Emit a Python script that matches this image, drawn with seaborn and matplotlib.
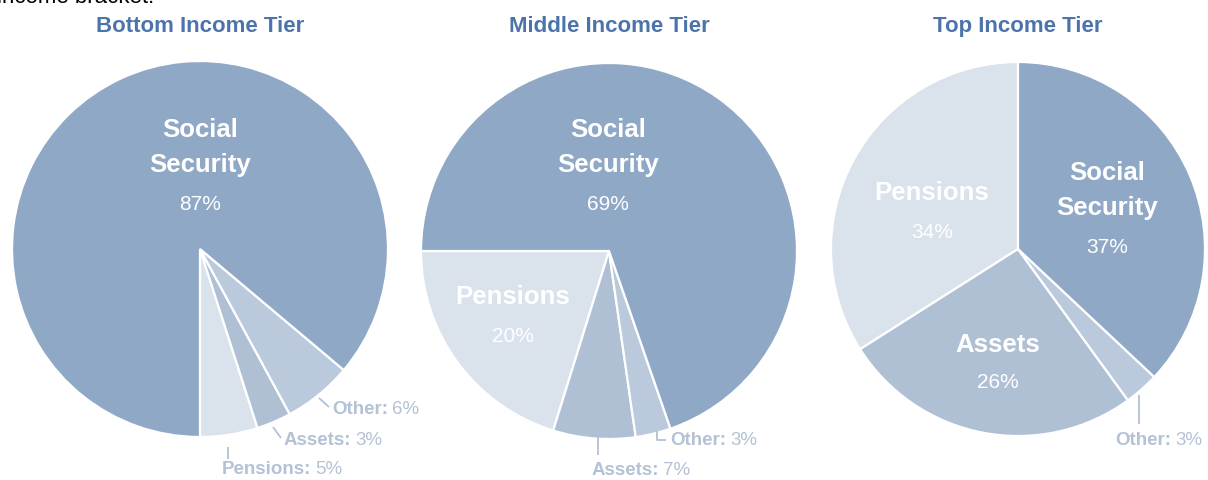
import matplotlib
matplotlib.use("Agg")
import matplotlib.pyplot as plt
from matplotlib import font_manager
import seaborn as sns

# Income sources for retirees, by income tier (percent of income)
tiers = ["Bottom Income Tier", "Middle Income Tier", "Top Income Tier"]
sources = ["Pensions", "Assets", "Other", "Social Security"]
bottom_shares = [5, 3, 6, 87]
middle_shares = [20, 7, 3, 69]
top_shares = [34, 26, 3, 37]
source_colors = ["#DAE2EC", "#AFC0D5", "#BAC9DB", "#8FA8C6"]

sns.set_theme(style="white")
installed = {f.name for f in font_manager.fontManager.ttflist}
narrow = "Liberation Sans Narrow" if "Liberation Sans Narrow" in installed else "Liberation Sans"
plt.rcParams["font.family"] = [narrow, "DejaVu Sans"]

W, H = 1208, 481
fig = plt.figure(figsize=(W / 100, H / 100), dpi=100)
ax = fig.add_axes([0, 0, 1, 1])


def Y(y):
    return H - y


TITLE_C = "#4C74AA"
NOTE_C = "#B4C2D5"

# pie layout: (center x, center y, radius, start angle)
layout = [(200, 250, 188, 270), (609, 252, 188, 180), (1018, 250, 187, 90)]
all_shares = [bottom_shares, middle_shares, top_shares]

for (cx, cy, r, start), shares, title in zip(layout, all_shares, tiers):
    ax.pie(shares, colors=source_colors, startangle=start, counterclock=True,
           center=(cx, Y(cy)), radius=r,
           wedgeprops=dict(edgecolor="white", linewidth=1.6))
    ax.text(cx, Y(24), title, ha="center", va="center_baseline", fontsize=16,
            fontweight="bold", color=TITLE_C)

# pie() resets the limits, so fix the pixel-sized data space afterwards
ax.set_xlim(0, W)
ax.set_ylim(0, H)
ax.set_aspect("auto")
ax.axis("off")


def inner(x, y, name, pct, gap=40):
    lines = name.split("\n")
    for i, ln in enumerate(lines):
        ax.text(x, Y(y + i * 35), ln, ha="center", va="center", fontsize=18.5,
                fontweight="bold", color="white")
    ax.text(x, Y(y + (len(lines) - 1) * 35 + gap), f"{pct}%", ha="center",
            va="center", fontsize=15, color="white")


inner(200, 130, "Social\nSecurity", bottom_shares[3])
inner(608, 130, "Social\nSecurity", middle_shares[3])
inner(513, 297, "Pensions", middle_shares[0], gap=39)
inner(1107, 173, "Social\nSecurity", top_shares[3])
inner(932, 193, "Pensions", top_shares[0], gap=40)
inner(998, 345, "Assets", top_shares[1], gap=38)

fig.canvas.draw()
renderer = fig.canvas.get_renderer()
to_data = ax.transData.inverted()


def outer(x, y, name, pct):
    t = ax.text(x, Y(y), f"{name}:", ha="left", va="center", fontsize=13.5,
                fontweight="bold", color=NOTE_C)
    bb = t.get_window_extent(renderer=renderer)
    x_end = to_data.transform((bb.x1, bb.y0))[0]
    ax.text(x_end + 4, Y(y), f"{pct}%", ha="left", va="center", fontsize=13.5,
            color=NOTE_C)


def leader(xs, ys):
    ax.plot(xs, [Y(v) for v in ys], color=NOTE_C, lw=1.3,
            solid_capstyle="butt")


# bottom tier callouts
outer(332, 410, "Other", bottom_shares[2])
leader([319, 329], [399, 408])
outer(284, 441, "Assets", bottom_shares[1])
leader([273, 281], [428, 439])
outer(222, 470, "Pensions", bottom_shares[0])
leader([228, 228], [448, 460])

# middle tier callouts
outer(670, 441, "Other", middle_shares[2])
leader([657, 657, 666], [432, 441, 441])
outer(592, 471, "Assets", middle_shares[1])
leader([598, 598], [438, 456])

# top tier callouts
outer(1115, 441, "Other", top_shares[2])
leader([1139, 1139], [396, 425])

# clipped caption line from the surrounding text
ax.text(-3, Y(3), "income bracket.", ha="left", va="baseline", fontsize=16,
        color="black", family=["Liberation Sans", "DejaVu Sans"])

ax.set_xlim(0, W)
ax.set_ylim(0, H)

fig.savefig("out.png", dpi=100)
